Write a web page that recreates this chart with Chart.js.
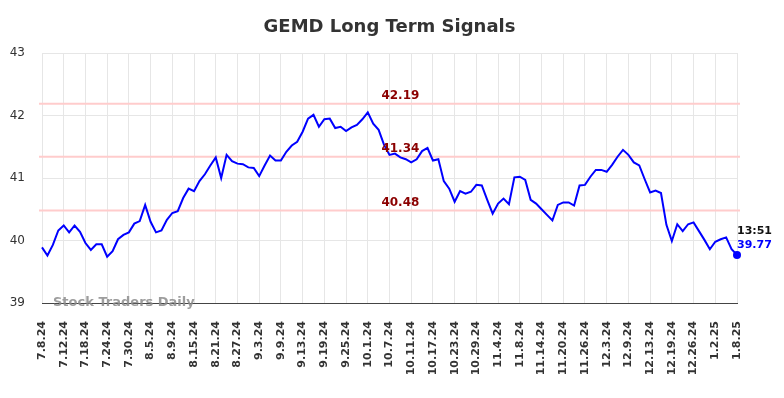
<!DOCTYPE html>
<html>
<head>
<meta charset="utf-8">
<title>GEMD Long Term Signals</title>
<script src="https://cdn.jsdelivr.net/npm/chart.js@4.4.1/dist/chart.umd.min.js"></script>
<style>
    html, body { margin: 0; padding: 0; background: #fff; }
    #chart { display: block; }
</style>
</head>
<body>
<canvas id="chart" width="784" height="398"></canvas>
<script>
// datos del grafico
const tickLabels = ['7.8.24', '7.12.24', '7.18.24', '7.24.24', '7.30.24', '8.5.24', '8.9.24', '8.15.24',
    '8.21.24', '8.27.24', '9.3.24', '9.9.24', '9.13.24', '9.19.24', '9.25.24', '10.1.24', '10.7.24',
    '10.11.24', '10.17.24', '10.23.24', '10.29.24', '11.4.24', '11.8.24', '11.14.24', '11.20.24',
    '11.26.24', '12.3.24', '12.9.24', '12.13.24', '12.19.24', '12.26.24', '1.2.25', '1.8.25'];

const prices = [
    39.89, 39.76, 39.93, 40.16, 40.24, 40.13, 40.24, 40.14, 39.96, 39.85,
    39.94, 39.94, 39.74, 39.83, 40.02, 40.09, 40.13, 40.27, 40.31, 40.57,
    40.30, 40.13, 40.16, 40.33, 40.44, 40.47, 40.68, 40.83, 40.79, 40.95,
    41.06, 41.20, 41.33, 41.00, 41.37, 41.27, 41.23, 41.22, 41.17, 41.16,
    41.03, 41.20, 41.36, 41.28, 41.28, 41.42, 41.52, 41.58, 41.74, 41.95,
    42.01, 41.82, 41.94, 41.95, 41.80, 41.82, 41.75, 41.81, 41.85, 41.94,
    42.05, 41.87, 41.77, 41.53, 41.37, 41.39, 41.33, 41.30, 41.25, 41.30,
    41.43, 41.48, 41.28, 41.30, 40.95, 40.83, 40.62, 40.79, 40.75, 40.78,
    40.89, 40.88, 40.65, 40.43, 40.59, 40.67, 40.58, 41.01, 41.02, 40.97,
    40.65, 40.59, 40.50, 40.41, 40.32, 40.57, 40.61, 40.61, 40.56, 40.88,
    40.89, 41.02, 41.13, 41.13, 41.10, 41.21, 41.34, 41.45, 41.37, 41.25,
    41.20, 40.98, 40.77, 40.80, 40.76, 40.25, 39.99, 40.26, 40.15, 40.26,
    40.29, 40.15, 40.01, 39.86, 39.98, 40.02, 40.05, 39.86, 39.77];

const levels = [42.19, 41.34, 40.48];
const lastTime = '13:51';
const yMin = 39;
const yMax = 43;

// una etiqueta cada 4 sesiones
const labels = prices.map((p, i) => i % 4 === 0 ? tickLabels[i / 4] : '');
const lastIndex = prices.length - 1;

Chart.defaults.font.family = 'DejaVu Sans';

// lineas de soporte / resistencia, titulo y marca de agua
const overlayPlugin = {
    id: 'overlay',
    beforeDatasetsDraw(chart) {
        const { ctx, chartArea, scales } = chart;
        ctx.save();
        ctx.strokeStyle = '#ffcccc';
        ctx.lineWidth = 2;
        levels.forEach(function (lv) {
            const y = scales.y.getPixelForValue(lv);
            ctx.beginPath();
            ctx.moveTo(chartArea.left - 3, y);
            ctx.lineTo(chartArea.right + 3, y);
            ctx.stroke();
        });
        ctx.restore();
    },
    afterDatasetsDraw(chart) {
        const { ctx, chartArea, scales } = chart;
        ctx.save();
        // etiquetas de niveles
        ctx.font = 'bold 12px "DejaVu Sans"';
        ctx.fillStyle = '#8b0000';
        ctx.textAlign = 'center';
        ctx.textBaseline = 'bottom';
        const lx = scales.x.getPixelForValue(66);
        levels.forEach(function (lv) {
            ctx.fillText(lv.toFixed(2), lx, scales.y.getPixelForValue(lv) - 2);
        });

        // ultimo valor
        const pt = chart.getDatasetMeta(0).data[lastIndex];
        ctx.textAlign = 'left';
        ctx.textBaseline = 'middle';
        ctx.font = 'bold 11px "DejaVu Sans"';
        ctx.fillStyle = '#111';
        ctx.fillText(lastTime, pt.x, pt.y - 24);
        ctx.fillStyle = '#0000ff';
        ctx.fillText(prices[lastIndex].toFixed(2), pt.x, pt.y - 10);

        // titulo
        ctx.font = 'bold 18px "DejaVu Sans"';
        ctx.fillStyle = '#333';
        ctx.textAlign = 'center';
        ctx.fillText('GEMD Long Term Signals', (chartArea.left + chartArea.right) / 2, 27);

        // marca de agua
        ctx.font = 'bold 13px "DejaVu Sans"';
        ctx.fillStyle = 'rgba(140,140,140,0.85)';
        ctx.textAlign = 'left';
        ctx.fillText('Stock Traders Daily', chartArea.left + 11, chartArea.bottom);
        ctx.restore();
    }
};

const ctx = document.getElementById('chart').getContext('2d');
const chart = new Chart(ctx, {
    type: 'line',
    data: {
        labels: labels,
        datasets: [{
            label: 'GEMD',
            data: prices,
            borderColor: '#0000ff',
            backgroundColor: '#0000ff',
            borderWidth: 2,
            tension: 0,
            fill: false,
            pointRadius: function (c) { return c.dataIndex === lastIndex ? 4 : 0; },
            pointHoverRadius: 0,
            pointBackgroundColor: '#0000ff',
            pointBorderWidth: 0
        }]
    },
    options: {
        responsive: false,
        animation: false,
        layout: {
            padding: { top: 53, right: 47, bottom: 0, left: 0 }
        },
        plugins: {
            legend: { display: false },
            title: { display: false },
            tooltip: { enabled: false }
        },
        scales: {
            x: {
                grid: {
                    color: function (c) { return c.index % 4 === 0 ? '#e6e6e6' : 'rgba(0,0,0,0)'; },
                    drawTicks: false
                },
                border: { color: '#444', width: 1 },
                ticks: {
                    autoSkip: false,
                    minRotation: 90,
                    maxRotation: 90,
                    padding: 18,
                    color: '#333',
                    font: { size: 11, weight: 'bold' }
                },
                afterFit: function (scale) { scale.height = 95; }
            },
            y: {
                min: yMin,
                max: yMax,
                grid: { color: '#e6e6e6', drawTicks: false },
                border: { display: false },
                ticks: {
                    stepSize: 1,
                    padding: 17,
                    color: '#333',
                    font: { size: 12 }
                },
                afterFit: function (scale) { scale.width = 42; }
            }
        }
    },
    plugins: [overlayPlugin]
});
</script>
</body>
</html>
